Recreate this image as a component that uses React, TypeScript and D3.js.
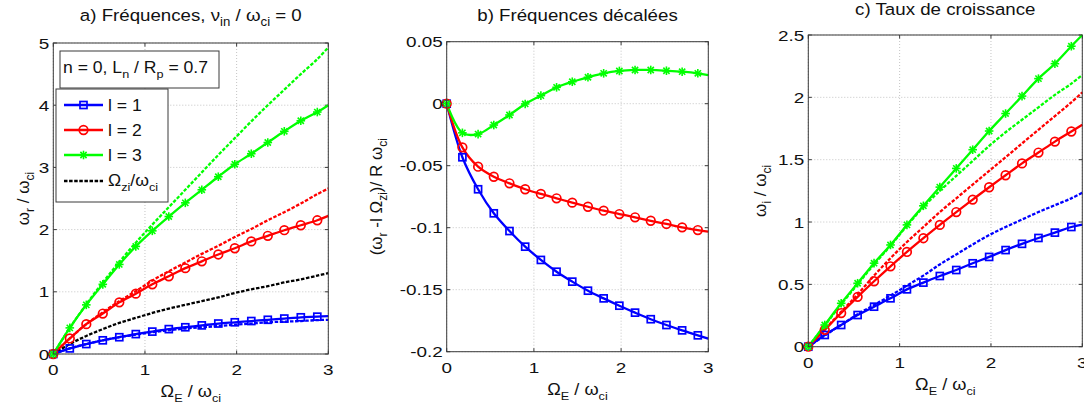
import React from 'react';
import * as d3 from 'd3';

// ---------- data ----------
const xVals = [0, 0.18, 0.36, 0.54, 0.72, 0.9, 1.08, 1.26, 1.44, 1.62, 1.8, 1.98, 2.16, 2.34, 2.52, 2.7, 2.88, 3];
const xTicks = [0, 1, 2, 3];

// panel a : omega_r / omega_ci
const aL1 = [0, 0.09, 0.16, 0.22, 0.27, 0.32, 0.36, 0.40, 0.43, 0.46, 0.49, 0.51, 0.53, 0.55, 0.57, 0.59, 0.60, 0.61];
const aL1d = [0, 0.09, 0.16, 0.22, 0.27, 0.31, 0.35, 0.38, 0.41, 0.43, 0.45, 0.47, 0.49, 0.51, 0.52, 0.53, 0.545, 0.55];
const aL2 = [0, 0.25, 0.48, 0.65, 0.83, 0.97, 1.12, 1.25, 1.38, 1.49, 1.60, 1.70, 1.81, 1.90, 1.99, 2.07, 2.15, 2.22];
const aL2d = [0, 0.25, 0.48, 0.67, 0.85, 1.01, 1.18, 1.33, 1.47, 1.61, 1.74, 1.88, 2.01, 2.15, 2.28, 2.42, 2.57, 2.66];
const aL3 = [0, 0.42, 0.79, 1.12, 1.44, 1.73, 1.98, 2.21, 2.43, 2.64, 2.85, 3.05, 3.22, 3.40, 3.58, 3.75, 3.89, 4.0];
const aL3d = [0, 0.42, 0.80, 1.15, 1.48, 1.79, 2.08, 2.36, 2.64, 2.92, 3.20, 3.47, 3.74, 4.00, 4.25, 4.50, 4.74, 4.93];
const aOmegaZi = [0, 0.16, 0.29, 0.40, 0.50, 0.58, 0.66, 0.73, 0.79, 0.85, 0.91, 0.98, 1.04, 1.09, 1.15, 1.20, 1.26, 1.30];
const aYTicks = [0, 1, 2, 3, 4, 5];

// panel b : shifted frequencies
const bL1 = [0, -0.0432, -0.069, -0.0884, -0.1027, -0.1153, -0.126, -0.1355, -0.1435, -0.1508, -0.157, -0.1629, -0.1685, -0.1738, -0.1785, -0.1828, -0.1868, -0.1895];
const bL2 = [0, -0.0352, -0.0508, -0.0589, -0.0642, -0.069, -0.0728, -0.0763, -0.0798, -0.0831, -0.0863, -0.089, -0.0916, -0.0944, -0.097, -0.0997, -0.1019, -0.1032];
const bL3 = [0, -0.0235, -0.0245, -0.0172, -0.0091, -0.0002, 0.0065, 0.0132, 0.0177, 0.0213, 0.0245, 0.0264, 0.0272, 0.0272, 0.0266, 0.0258, 0.0245, 0.0231];
const bYTicks = [-0.2, -0.15, -0.1, -0.05, 0, 0.05];
const bYTickLabels = ['-0.2', '-0.15', '-0.1', '-0.05', '0', '0.05'];

// panel c : growth rate
const cL1 = [0, 0.094, 0.174, 0.254, 0.321, 0.388, 0.46, 0.514, 0.567, 0.615, 0.669, 0.72, 0.775, 0.825, 0.872, 0.915, 0.96, 0.98];
const cL1d = [0, 0.09, 0.175, 0.26, 0.335, 0.41, 0.49, 0.57, 0.66, 0.74, 0.82, 0.895, 0.96, 1.02, 1.08, 1.135, 1.19, 1.235];
const cL2 = [0, 0.135, 0.27, 0.40, 0.525, 0.645, 0.76, 0.87, 0.977, 1.08, 1.18, 1.279, 1.375, 1.47, 1.557, 1.645, 1.726, 1.78];
const cL2d = [0, 0.14, 0.28, 0.42, 0.57, 0.71, 0.84, 0.96, 1.08, 1.19, 1.30, 1.41, 1.52, 1.63, 1.74, 1.85, 1.96, 2.04];
const cL3 = [0, 0.174, 0.348, 0.509, 0.67, 0.816, 0.977, 1.13, 1.28, 1.43, 1.58, 1.73, 1.87, 2.01, 2.15, 2.27, 2.41, 2.5];
const cL3d = [0, 0.17, 0.34, 0.50, 0.66, 0.81, 0.97, 1.12, 1.25, 1.37, 1.49, 1.61, 1.72, 1.82, 1.92, 2.02, 2.11, 2.18];
const cYTicks = [0, 0.5, 1, 1.5, 2, 2.5];

const legendLabels = ['l = 1', 'l = 2', 'l = 3'];

// ---------- style ----------
const FONT = "'Liberation Sans', Arial, Helvetica, sans-serif";
const BLUE = '#0000ff';
const RED = '#ff0000';
const GREEN = '#00ff00';
const FRAME = '#3a3a3a';
const GRID = '#c4c4c4';
const DASH = '3.5,1.6';

type MarkerType = 'square' | 'circle' | 'star' | 'none';

function Marker({ type, x, y, color }: { type: MarkerType; x: number; y: number; color: string }) {
  if (type === 'square')
    return <rect x={x - 3.5} y={y - 3.5} width={7} height={7} fill="none" stroke={color} strokeWidth={1.7} />;
  if (type === 'circle') return <circle cx={x} cy={y} r={4.3} fill="none" stroke={color} strokeWidth={1.7} />;
  if (type === 'star') {
    const s = 4.3;
    const d = 3.1;
    return (
      <g stroke={color} strokeWidth={1.6}>
        <line x1={x - s} y1={y} x2={x + s} y2={y} />
        <line x1={x} y1={y - s} x2={x} y2={y + s} />
        <line x1={x - d} y1={y - d} x2={x + d} y2={y + d} />
        <line x1={x - d} y1={y + d} x2={x + d} y2={y - d} />
      </g>
    );
  }
  return null;
}

type Series = { ys: number[]; color: string; dashed?: boolean; marker: MarkerType };

type PanelCfg = {
  id: string;
  left: number;
  right: number;
  top: number;
  bottom: number;
  yDomain: [number, number];
  yTicks: number[];
  yTickLabels?: string[];
  series: Series[];
};

const TSX = 1.22; // horizontal stretch of tick labels
const LSX = 1.1; // horizontal stretch of other labels

function Panel({ cfg }: { cfg: PanelCfg }) {
  const x = d3.scaleLinear().domain([0, 3]).range([cfg.left, cfg.right]);
  const y = d3.scaleLinear().domain(cfg.yDomain).range([cfg.bottom, cfg.top]);
  const line = d3
    .line<number>()
    .x((_, i) => x(xVals[i]))
    .y((v) => y(v))
    .curve(d3.curveCatmullRom.alpha(0.5));
  const tl = 3.5;
  return (
    <g>
      <defs>
        <clipPath id={'clip-' + cfg.id}>
          <rect x={cfg.left} y={cfg.top - 1} width={cfg.right - cfg.left + 1} height={cfg.bottom - cfg.top + 2} />
        </clipPath>
      </defs>
      {/* grid */}
      {xTicks.map((t) => (
        <line key={'gx' + t} x1={x(t)} x2={x(t)} y1={cfg.top} y2={cfg.bottom} stroke={GRID} strokeWidth={1} strokeDasharray="1,2" />
      ))}
      {cfg.yTicks.map((t) => (
        <line key={'gy' + t} x1={cfg.left} x2={cfg.right} y1={y(t)} y2={y(t)} stroke={GRID} strokeWidth={1} strokeDasharray="1,2" />
      ))}
      {/* ticks */}
      {xTicks.map((t) => (
        <g key={'tx' + t} stroke={FRAME} strokeWidth={1}>
          <line x1={x(t)} x2={x(t)} y1={cfg.bottom} y2={cfg.bottom - tl} />
          <line x1={x(t)} x2={x(t)} y1={cfg.top} y2={cfg.top + tl} />
        </g>
      ))}
      {cfg.yTicks.map((t) => (
        <g key={'ty' + t} stroke={FRAME} strokeWidth={1}>
          <line x1={cfg.left} x2={cfg.left + tl} y1={y(t)} y2={y(t)} />
          <line x1={cfg.right} x2={cfg.right - tl} y1={y(t)} y2={y(t)} />
        </g>
      ))}
      {/* series */}
      <g clipPath={`url(#clip-${cfg.id})`}>
        {cfg.series.map((s, k) => (
          <path
            key={'p' + k}
            d={line(s.ys) || ''}
            fill="none"
            stroke={s.color}
            strokeWidth={2.3}
            strokeDasharray={s.dashed ? DASH : undefined}
          />
        ))}
      </g>
      {cfg.series.map((s, k) =>
        s.marker === 'none' ? null : (
          <g key={'m' + k}>
            {s.ys.slice(0, s.ys.length - 1).map((v, i) => (
              <Marker key={i} type={s.marker} x={x(xVals[i])} y={y(v)} color={s.color} />
            ))}
          </g>
        )
      )}
      {/* frame */}
      <rect x={cfg.left} y={cfg.top} width={cfg.right - cfg.left} height={cfg.bottom - cfg.top} fill="none" stroke={FRAME} strokeWidth={1} />
      {/* tick labels */}
      {xTicks.map((t) => (
        <text
          key={'lx' + t}
          transform={`translate(${x(t)},${cfg.bottom + 21}) scale(${TSX},1)`}
          textAnchor="middle"
          fontSize={15.5}
          fontFamily={FONT}
          fill="#111"
        >
          {t}
        </text>
      ))}
      {cfg.yTicks.map((t, i) => (
        <text
          key={'ly' + t}
          transform={`translate(${cfg.left - 4},${y(t) + 5.5}) scale(${TSX},1)`}
          textAnchor="end"
          fontSize={15.5}
          fontFamily={FONT}
          fill="#111"
        >
          {cfg.yTickLabels ? cfg.yTickLabels[i] : String(t)}
        </text>
      ))}
      {/* x label */}
      <text
        transform={`translate(${(cfg.left + cfg.right) / 2},${cfg.bottom + 43}) scale(${LSX},1)`}
        textAnchor="middle"
        fontSize={16.5}
        fontFamily={FONT}
        fill="#111"
      >
        Ω<tspan fontSize={11.5} dy={5}>E</tspan>
        <tspan dy={-5}> / ω</tspan>
        <tspan fontSize={11.5} dy={5}>ci</tspan>
      </text>
    </g>
  );
}

const panels: PanelCfg[] = [
  {
    id: 'a',
    left: 53.3,
    right: 328.3,
    top: 43,
    bottom: 354,
    yDomain: [0, 5],
    yTicks: aYTicks,
    series: [
      { ys: aL1d, color: BLUE, dashed: true, marker: 'none' },
      { ys: aL2d, color: RED, dashed: true, marker: 'none' },
      { ys: aL3d, color: GREEN, dashed: true, marker: 'none' },
      { ys: aOmegaZi, color: '#000', dashed: true, marker: 'none' },
      { ys: aL1, color: BLUE, marker: 'square' },
      { ys: aL2, color: RED, marker: 'circle' },
      { ys: aL3, color: GREEN, marker: 'star' },
    ],
  },
  {
    id: 'b',
    left: 446.7,
    right: 708.3,
    top: 41.7,
    bottom: 351.7,
    yDomain: [-0.2, 0.05],
    yTicks: bYTicks,
    yTickLabels: bYTickLabels,
    series: [
      { ys: bL1, color: BLUE, marker: 'square' },
      { ys: bL2, color: RED, marker: 'circle' },
      { ys: bL3, color: GREEN, marker: 'star' },
    ],
  },
  {
    id: 'c',
    left: 808.3,
    right: 1082.3,
    top: 35,
    bottom: 346.7,
    yDomain: [0, 2.5],
    yTicks: cYTicks,
    series: [
      { ys: cL1d, color: BLUE, dashed: true, marker: 'none' },
      { ys: cL2d, color: RED, dashed: true, marker: 'none' },
      { ys: cL3d, color: GREEN, dashed: true, marker: 'none' },
      { ys: cL1, color: BLUE, marker: 'square' },
      { ys: cL2, color: RED, marker: 'circle' },
      { ys: cL3, color: GREEN, marker: 'star' },
    ],
  },
];

function Legend() {
  const entries = [
    { label: legendLabels[0], color: BLUE, marker: 'square' as MarkerType, dashed: false },
    { label: legendLabels[1], color: RED, marker: 'circle' as MarkerType, dashed: false },
    { label: legendLabels[2], color: GREEN, marker: 'star' as MarkerType, dashed: false },
  ];
  const ys = [105, 130, 155];
  return (
    <g fontFamily={FONT} fill="#111">
      {/* parameter box */}
      <rect x={60} y={51} width={159} height={37} fill="#fff" stroke={FRAME} strokeWidth={1} />
      <text transform={`translate(63,72.5) scale(${LSX},1)`} fontSize={16}>
        n = 0, L<tspan fontSize={11.5} dy={5}>n</tspan>
        <tspan dy={-5}> / R</tspan>
        <tspan fontSize={11.5} dy={5}>p</tspan>
        <tspan dy={-5}> = 0.7</tspan>
      </text>
      {/* legend box */}
      <rect x={56} y={89} width={112} height={113} fill="#fff" stroke={FRAME} strokeWidth={1} />
      {entries.map((e, i) => (
        <g key={i}>
          <line x1={64} x2={103} y1={ys[i]} y2={ys[i]} stroke={e.color} strokeWidth={2.3} />
          <Marker type={e.marker} x={83.5} y={ys[i]} color={e.color} />
          <text transform={`translate(108,${ys[i] + 6}) scale(${LSX},1)`} fontSize={16}>
            {e.label}
          </text>
        </g>
      ))}
      <line x1={64} x2={103} y1={181} y2={181} stroke="#000" strokeWidth={2.3} strokeDasharray={DASH} />
      <text transform={`translate(108,186) scale(${LSX},1)`} fontSize={16}>
        Ω<tspan fontSize={11.5} dy={5}>zi</tspan>
        <tspan dy={-5}>/ω</tspan>
        <tspan fontSize={11.5} dy={5}>ci</tspan>
      </text>
    </g>
  );
}

export default function App() {
  const [pa, pb, pc] = panels;
  return (
    <svg width={1084} height={410} style={{ position: 'absolute', left: 0, top: 0, background: '#fff' }}>
      <rect x={0} y={0} width={1084} height={410} fill="#fff" />
      {panels.map((p) => (
        <Panel key={p.id} cfg={p} />
      ))}
      <Legend />
      {/* titles */}
      <g fontFamily={FONT} fill="#111" fontSize={17}>
        <text transform={`translate(${(pa.left + pa.right) / 2},21) scale(${LSX},1)`} textAnchor="middle">
          a) Fréquences,  ν<tspan fontSize={12} dy={5}>in</tspan>
          <tspan dy={-5}> / ω</tspan>
          <tspan fontSize={12} dy={5}>ci</tspan>
          <tspan dy={-5}> = 0</tspan>
        </text>
        <text transform={`translate(${(pb.left + pb.right) / 2},21) scale(${LSX},1)`} textAnchor="middle">
          b) Fréquences décalées
        </text>
        <text transform={`translate(${(pc.left + pc.right) / 2},15) scale(${LSX},1)`} textAnchor="middle">
          c) Taux de croissance
        </text>
      </g>
      {/* y labels */}
      <g fontFamily={FONT} fill="#111" fontSize={17}>
        <text transform={`translate(29,${(pa.top + pa.bottom) / 2}) rotate(-90)`} textAnchor="middle">
          ω<tspan fontSize={12} dy={5}>r</tspan>
          <tspan dy={-5}> / ω</tspan>
          <tspan fontSize={12} dy={5}>ci</tspan>
        </text>
        <text transform={`translate(382,${(pb.top + pb.bottom) / 2}) rotate(-90)`} textAnchor="middle">
          (ω<tspan fontSize={12} dy={5}>r</tspan>
          <tspan dy={-5}> -l Ω</tspan>
          <tspan fontSize={12} dy={5}>zi</tspan>
          <tspan dy={-5}>)/ R ω</tspan>
          <tspan fontSize={12} dy={5}>ci</tspan>
        </text>
        <text transform={`translate(766,${(pc.top + pc.bottom) / 2}) rotate(-90)`} textAnchor="middle">
          ω<tspan fontSize={12} dy={5}>i</tspan>
          <tspan dy={-5}> / ω</tspan>
          <tspan fontSize={12} dy={5}>ci</tspan>
        </text>
      </g>
    </svg>
  );
}
